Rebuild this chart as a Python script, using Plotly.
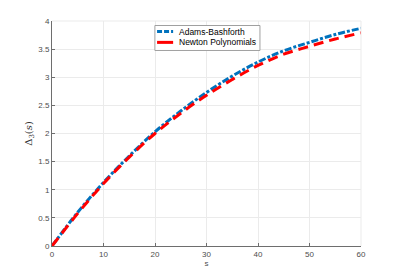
import plotly.graph_objects as go

s_vals = [0, 5, 10, 15, 20, 25, 30, 35, 40, 45, 50, 55, 60]
adams_bashforth = [0, 0.60, 1.13, 1.60, 2.03, 2.40, 2.73, 3.02, 3.27, 3.47, 3.62, 3.76, 3.87]
newton_poly = [0, 0.58, 1.11, 1.58, 2.00, 2.36, 2.68, 2.96, 3.21, 3.41, 3.55, 3.68, 3.79]
series_names = ["Adams-Bashforth", "Newton Polynomials"]
series_colors = ["#0072BD", "#FF0000"]
series_dash = ["7px,2px,3px,2px", "10px,6px"]
x_ticks = [0, 10, 20, 30, 40, 50, 60]
y_ticks = [0, 0.5, 1, 1.5, 2, 2.5, 3, 3.5, 4]

fig = go.Figure()
for name, ys, col, dash in zip(series_names, [adams_bashforth, newton_poly], series_colors, series_dash):
    fig.add_trace(go.Scatter(x=s_vals, y=ys, mode="lines", name=name, showlegend=False,
                             line=dict(color=col, width=3, dash=dash, shape="spline")))

tick_font = dict(size=8, color="#4D4D4D", family="Liberation Sans")
axis_common = dict(showgrid=True, gridcolor="#EBEBEB", gridwidth=1, zeroline=False,
                   showline=True, linecolor="#6E6E6E", linewidth=1, ticks="inside",
                   ticklen=3, tickcolor="#6E6E6E", tickfont=tick_font, automargin=False)
fig.update_layout(
    width=399, height=276,
    margin=dict(l=44, r=46, t=13, b=38, autoexpand=False),
    paper_bgcolor="white", plot_bgcolor="white",
    showlegend=False,
    xaxis=dict(range=[0, 60], tickvals=x_ticks, ticktext=[str(v) for v in x_ticks],
               title=dict(text="s", font=dict(size=8, color="#4D4D4D", family="Liberation Sans"), standoff=2),
               **axis_common),
    yaxis=dict(range=[0, 4], tickvals=y_ticks, ticktext=[str(v) for v in y_ticks],
               title=dict(text="Δ<sub>3</sub>(<i>s</i>)", font=dict(size=10, color="#333333", family="DejaVu Serif"), standoff=3),
               **axis_common),
)
fig.add_shape(type="line", xref="paper", yref="paper", x0=0, x1=1, y0=1, y1=1, line=dict(color="#EBEBEB", width=1))
fig.add_shape(type="line", xref="paper", yref="paper", x0=1, x1=1, y0=0, y1=1, line=dict(color="#EBEBEB", width=1))

# legend box
fig.add_shape(type="rect", xref="paper", yref="paper", x0=0.333, x1=0.673, y0=0.869, y1=0.980,
              line=dict(color="#A0A0A0", width=1), fillcolor="white", layer="above")
row_y = [0.953, 0.905]
for name, col, dash, yy in zip(series_names, series_colors, ["5px,2px", "solid"], row_y):
    fig.add_shape(type="line", xref="paper", yref="paper", x0=0.340, x1=0.392, y0=yy, y1=yy,
                  line=dict(color=col, width=3, dash=dash), layer="above")
    fig.add_annotation(xref="paper", yref="paper", x=0.405, y=yy, xanchor="left", yanchor="middle",
                       text=name, showarrow=False, font=dict(size=8.5, color="black", family="Liberation Sans"))
fig.write_html("out.html")
